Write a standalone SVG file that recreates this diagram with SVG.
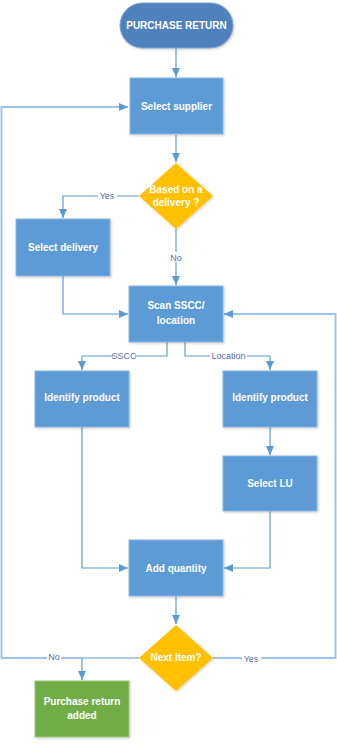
<svg xmlns="http://www.w3.org/2000/svg" width="337" height="746" viewBox="0 0 337 746">
<defs>
<marker id="ah" markerWidth="10" markerHeight="8" refX="9" refY="4" orient="auto" markerUnits="userSpaceOnUse"><path d="M0,0 L9,4 L0,8 Z" fill="#5B9BD5"/></marker>
<filter id="sh" x="-10%" y="-10%" width="130%" height="130%"><feDropShadow dx="1" dy="1" stdDeviation="1" flood-color="#000" flood-opacity="0.2"/></filter>
</defs>
<style>
.box{fill:#5B9BD5;stroke:#8FB6E0;stroke-width:1;filter:url(#sh)}
.dia{fill:#FFC000;filter:url(#sh)}
.t{font-family:"Liberation Sans",Arial,sans-serif;font-size:10px;font-weight:bold;fill:#fff;text-anchor:middle}
.c{fill:none;stroke:#5B9BD5;stroke-width:1.2}
.l{fill:none;stroke:#9DC3E6;stroke-width:2}
.lbl{font-family:"Liberation Sans",Arial,sans-serif;font-size:9px;fill:#5A6FA8;text-anchor:middle}
.bg{fill:#fff}
</style>
<g id="connectors">
<path class="c" d="M176,48 V77" marker-end="url(#ah)"/>
<path class="c" d="M176,135 V162" marker-end="url(#ah)"/>
<path class="c" d="M139,196 H63 V218" marker-end="url(#ah)"/>
<path class="c" d="M176,229 V285" marker-end="url(#ah)"/>
<path class="c" d="M63,276 V314 H128" marker-end="url(#ah)"/>
<path class="c" d="M167,342 V356 H82 V370" marker-end="url(#ah)"/>
<path class="c" d="M185,342 V356 H270 V370" marker-end="url(#ah)"/>
<path class="c" d="M270,427 V455" marker-end="url(#ah)"/>
<path class="c" d="M82,427 V568 H128" marker-end="url(#ah)"/>
<path class="c" d="M270,511 V568 H224" marker-end="url(#ah)"/>
<path class="c" d="M176,596 V624" marker-end="url(#ah)"/>
<path class="c" d="M139,658 H82 V680" marker-end="url(#ah)"/>
<path class="l" d="M82,658 H1.5 V107 H120"/>
<path class="c" d="M120,107 H128" marker-end="url(#ah)"/>
<path class="l" d="M213,658 H335.5 V314 H232"/>
<path class="c" d="M232,314 H224" marker-end="url(#ah)"/>
<rect class="bg" x="98" y="191" width="19" height="10"/>
<text class="lbl" x="107" y="199">Yes</text>
<rect class="bg" x="169" y="252" width="14" height="10"/>
<text class="lbl" x="176" y="261">No</text>
<rect class="bg" x="113" y="351" width="22" height="10"/>
<text class="lbl" x="124" y="359">SSCC</text>
<rect class="bg" x="210" y="351" width="37" height="10"/>
<text class="lbl" x="228.5" y="359">Location</text>
<rect class="bg" x="47" y="652" width="14" height="10"/>
<text class="lbl" x="54" y="660">No</text>
<rect class="bg" x="242" y="654" width="19" height="10"/>
<text class="lbl" x="251" y="662">Yes</text>
</g>
<g id="start">
<rect x="120" y="3" width="113" height="45" rx="22.5" fill="#4F81BD" stroke="#7FA4D4" stroke-width="1" filter="url(#sh)"/>
<text class="t" x="176.5" y="29">PURCHASE RETURN</text>
</g>
<g id="select-supplier">
<rect class="box" x="130" y="78" width="93" height="56"/>
<text class="t" x="176.5" y="110">Select supplier</text>
</g>
<g id="based-on-delivery">
<polygon class="dia" points="176,163 213,196 176,229 139,196"/>
<text class="t" x="176" y="193">Based on a</text>
<text class="t" x="176" y="206">delivery ?</text>
</g>
<g id="select-delivery">
<rect class="box" x="16" y="219" width="94" height="57"/>
<text class="t" x="63" y="251">Select delivery</text>
</g>
<g id="scan">
<rect class="box" x="129" y="286" width="94" height="56"/>
<text class="t" x="176" y="309">Scan SSCC/</text>
<text class="t" x="176" y="324">location</text>
</g>
<g id="identify-product-sscc">
<rect class="box" x="35" y="371" width="94" height="56"/>
<text class="t" x="82" y="401">Identify product</text>
</g>
<g id="identify-product-location">
<rect class="box" x="223" y="371" width="94" height="56"/>
<text class="t" x="270" y="401">Identify product</text>
</g>
<g id="select-lu">
<rect class="box" x="223" y="456" width="94" height="55"/>
<text class="t" x="270" y="487">Select LU</text>
</g>
<g id="add-quantity">
<rect class="box" x="129" y="540" width="94" height="56"/>
<text class="t" x="176" y="572">Add quantity</text>
</g>
<g id="next-item">
<polygon class="dia" points="176,625 213,658 176,691 139,658"/>
<text class="t" x="176" y="661">Next item?</text>
</g>
<g id="purchase-return-added">
<rect x="35" y="681" width="94" height="56" fill="#70AD47" stroke="#9CC97F" stroke-width="1" filter="url(#sh)"/>
<text class="t" x="82" y="705">Purchase return</text>
<text class="t" x="82" y="719">added</text>
</g>
</svg>
